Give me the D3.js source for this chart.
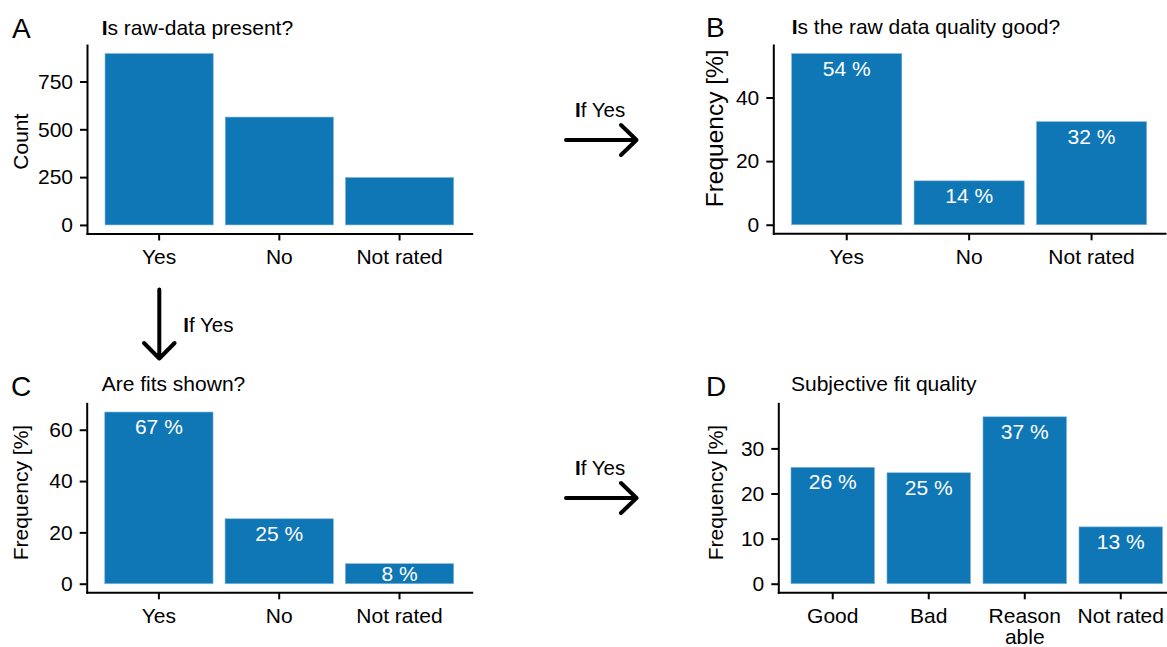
<!DOCTYPE html>
<html>
<head>
<meta charset="utf-8">
<script src="https://cdn.jsdelivr.net/npm/d3@7"></script>
<style>
  html, body { margin: 0; padding: 0; background: #ffffff; overflow: hidden; }
  svg { display: block; font-family: "Liberation Sans", Arial, Helvetica, sans-serif; }
</style>
</head>
<body>
<svg id="chart" width="1167" height="647"></svg>
<script>
// ---- data ----
const catsA = ["Yes", "No", "Not rated"];
const countsA = [896, 564, 248];
const ticksA = [0, 250, 500, 750];

const catsB = ["Yes", "No", "Not rated"];
const freqB = [53.8, 13.8, 32.4];
const ticksB = [0, 20, 40];

const catsC = ["Yes", "No", "Not rated"];
const freqC = [66.9, 25.3, 7.8];
const ticksC = [0, 20, 40, 60];

const catsD = ["Good", "Bad", "Reason\nable", "Not rated"];
const freqD = [25.8, 24.6, 37.0, 12.6];
const ticksD = [0, 10, 20, 30];

// upper limits of the value axes
const yLimits = [940.8, 56.5, 70.3, 40];

const BAR = "#1077b6";
const svg = d3.select("#chart");

const panels = [
  { tag: "A", title: "Is raw-data present?", boldI: true, ytitle: "Count", ytSize: 21,
    cats: catsA, vals: countsA, ticks: ticksA, lim: yLimits[0], labels: false,
    x0: 87, x1: 471.7, pin: 0.1, pout: 0.15, top: 45, bottom: 233.5,
    tagX: 12, tagY: 38, titleX: 101.7, titleY: 34.8, ytX: 28, ytY: 141.7 },
  { tag: "B", title: "Is the raw data quality good?", boldI: true, ytitle: "Frequency [%]", ytSize: 24.5,
    cats: catsB, vals: freqB, ticks: ticksB, lim: yLimits[1], labels: true,
    x0: 773.3, x1: 1165, pin: 0.1, pout: 0.15, top: 45, bottom: 233.3,
    tagX: 706, tagY: 37, titleX: 791.7, titleY: 34, ytX: 723.3, ytY: 128.3 },
  { tag: "C", title: "Are fits shown?", boldI: false, ytitle: "Frequency [%]", ytSize: 21,
    cats: catsC, vals: freqC, ticks: ticksC, lim: yLimits[2], labels: true,
    x0: 86.7, x1: 471.7, pin: 0.1, pout: 0.15, top: 403.3, bottom: 592.3,
    tagX: 11, tagY: 396, titleX: 101.7, titleY: 391, ytX: 28.3, ytY: 492.5 },
  { tag: "D", title: "Subjective fit quality", boldI: false, ytitle: "Frequency [%]", ytSize: 21,
    cats: catsD, vals: freqD, ticks: ticksD, lim: yLimits[3], labels: true,
    x0: 778.3, x1: 1175.2, pin: 0.13, pout: 0.132, top: 403.3, bottom: 592.3,
    tagX: 706, tagY: 396, titleX: 791, titleY: 391, ytX: 723.3, ytY: 492.5 }
];

panels.forEach(p => {
  const g = svg.append("g");
  const lower = -p.lim * 0.05 / 1.05;
  const y = d3.scaleLinear().domain([lower, p.lim]).range([p.bottom, p.top]);
  const x = d3.scaleBand().domain(p.cats).range([p.x0, p.x1])
    .paddingInner(p.pin).paddingOuter(p.pout);

  // bars
  g.selectAll("rect.bar").data(p.cats.map((c, i) => ({ c, v: p.vals[i] })))
    .join("rect").attr("class", "bar")
    .attr("x", d => x(d.c)).attr("width", x.bandwidth())
    .attr("y", d => y(d.v)).attr("height", d => y(0) - y(d.v))
    .attr("fill", BAR).attr("stroke", "#7fb4dc").attr("stroke-width", 0.6);

  // value labels inside bars
  if (p.labels) {
    g.selectAll("text.val").data(p.cats.map((c, i) => ({ c, v: p.vals[i] })))
      .join("text").attr("class", "val")
      .attr("x", d => x(d.c) + x.bandwidth() / 2)
      .attr("y", d => Math.min(y(d.v) + 22, y(0) - 2.6))
      .attr("text-anchor", "middle").attr("fill", "#ffffff")
      .attr("font-size", 21)
      .text(d => `${Math.round(d.v)} %`);
  }

  // y axis
  const ya = g.append("g").attr("transform", `translate(${p.x0},0)`)
    .call(d3.axisLeft(y).tickValues(p.ticks).tickSize(7).tickSizeOuter(0).tickPadding(7));
  // x axis
  const xa = g.append("g").attr("transform", `translate(0,${p.bottom})`)
    .call(d3.axisBottom(x).tickSize(7).tickSizeOuter(0).tickPadding(9));

  [ya, xa].forEach(a => {
    a.select(".domain").attr("stroke", "#000").attr("stroke-width", 2).attr("stroke-linecap", "square");
    a.selectAll(".tick line").attr("stroke", "#000").attr("stroke-width", 2);
    a.selectAll(".tick text").attr("fill", "#000").attr("font-size", 21)
      .attr("font-family", "Liberation Sans, Arial, Helvetica, sans-serif");
  });

  // multi-line category labels
  xa.selectAll(".tick text").each(function (d) {
    const parts = String(d).split("\n");
    if (parts.length > 1) {
      const t = d3.select(this);
      t.text(null);
      parts.forEach((s, k) => {
        t.append("tspan").attr("x", 0).attr("dy", k === 0 ? "0.71em" : "1.0em").text(s);
      });
      t.attr("dy", null);
    }
  });

  // y axis title
  g.append("text")
    .attr("transform", `translate(${p.ytX},${p.ytY}) rotate(-90)`)
    .attr("text-anchor", "middle").attr("font-size", p.ytSize).attr("fill", "#000")
    .text(p.ytitle);

  // panel tag
  g.append("text").attr("x", p.tagX).attr("y", p.tagY)
    .attr("font-size", 28).attr("fill", "#000").text(p.tag);

  // panel title
  const tt = g.append("text").attr("x", p.titleX).attr("y", p.titleY)
    .attr("font-size", 21).attr("fill", "#000");
  if (p.boldI && p.title.startsWith("I")) {
    tt.append("tspan").attr("font-weight", "bold").text("I");
    tt.append("tspan").text(p.title.slice(1));
  } else {
    tt.text(p.title);
  }
});

// flow arrows between panels
function ifYes(xp, yp) {
  const t = svg.append("text").attr("x", xp).attr("y", yp)
    .attr("font-size", 20.5).attr("fill", "#000");
  t.append("tspan").attr("font-weight", "bold").text("I");
  t.append("tspan").text("f Yes");
}
const arrowStyle = sel => sel.attr("fill", "none").attr("stroke", "#000")
  .attr("stroke-width", 4).attr("stroke-linecap", "round").attr("stroke-linejoin", "round");

[[0], [358]].forEach(([dy]) => {
  ifYes(575, 116.7 + dy);
  svg.append("path").call(arrowStyle)
    .attr("d", `M566,${140 + dy}H636.5M621,${125 + dy}L636.5,${140 + dy}L621,${155 + dy}`);
});

ifYes(183.3, 331.7);
svg.append("path").call(arrowStyle)
  .attr("d", "M159.3,289.5V358.5M144,343L159.3,358.5L174.6,343");
</script>
</body>
</html>
